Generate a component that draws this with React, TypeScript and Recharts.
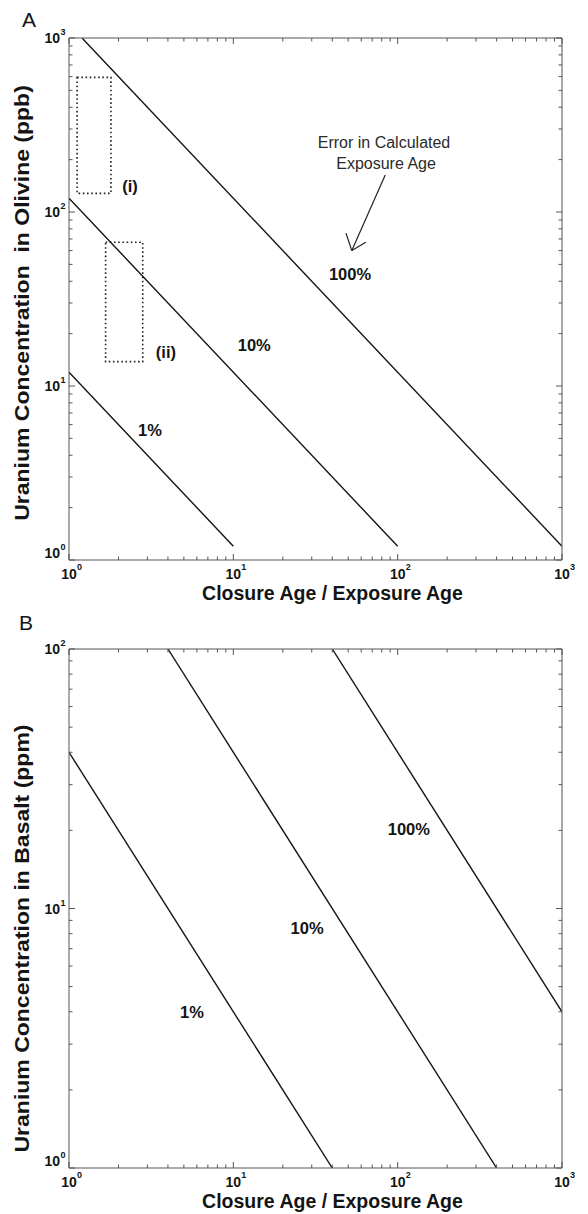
import React from 'react';
import { LineChart, Line, XAxis, YAxis, ReferenceArea, ReferenceLine, ReferenceDot, Label } from 'recharts';

// ---------- data ----------
const xTicks = [1, 2, 3, 4, 5, 6, 7, 8, 9, 10, 20, 30, 40, 50, 60, 70, 80, 90, 100, 200, 300, 400, 500, 600, 700, 800, 900, 1000];
const yTicksA = [1, 2, 3, 4, 5, 6, 7, 8, 9, 10, 20, 30, 40, 50, 60, 70, 80, 90, 100, 200, 300, 400, 500, 600, 700, 800, 900, 1000];
const yTicksB = [1, 2, 3, 4, 5, 6, 7, 8, 9, 10, 20, 30, 40, 50, 60, 70, 80, 90, 100];
const majorTicks = [1, 10, 100, 1000];
const majorExponents = ['0', '1', '2', '3'];

// Panel A: Uranium concentration in olivine (ppb)
const olivine1 = [{ x: 1, y: 12 }, { x: 10, y: 1.2 }];
const olivine10 = [{ x: 1, y: 120 }, { x: 100, y: 1.2 }];
const olivine100 = [{ x: 1.2, y: 1000 }, { x: 1000, y: 1.2 }];

// Panel B: Uranium concentration in basalt (ppm)
const basalt1 = [{ x: 1, y: 40 }, { x: 40, y: 1 }];
const basalt10 = [{ x: 4, y: 100 }, { x: 400, y: 1 }];
const basalt100 = [{ x: 40, y: 100 }, { x: 1000, y: 4 }];

// dotted boxes in panel A: [x1, x2, y1, y2]
const boxI = [1.12, 1.8, 128, 594];
const boxII = [1.67, 2.81, 13.8, 67];

// annotations [label, x, y]
const labelsA: [string, number, number][] = [
  ['(i)', 2.35, 141],
  ['(ii)', 3.89, 15.7],
  ['1%', 3.11, 5.6],
  ['10%', 13.4, 17.2],
  ['100%', 51.3, 44],
];
const noteA: [string, number, number][] = [
  ['Error in Calculated', 82.6, 252],
  ['Exposure Age', 85, 191],
];
const arrowShaft = [{ x: 84, y: 163 }, { x: 52.6, y: 60 }];
const arrowHeadL = [{ x: 48.5, y: 75.5 }, { x: 52.6, y: 60 }];
const arrowHeadR = [{ x: 64, y: 67 }, { x: 52.6, y: 60 }];

const labelsB: [string, number, number][] = [
  ['1%', 5.6, 4.0],
  ['10%', 28.1, 8.4],
  ['100%', 117, 20.2],
];

// ---------- styles ----------
const FONT = '"Liberation Sans", Arial, Helvetica, sans-serif';
const AXIS = '#555';
const INK = '#141414';
const STRETCH = 1.15;

type Side = 'bottom' | 'top' | 'left' | 'right';

function renderTick(side: Side, p: any, minY: number) {
  const { x, y, payload } = p;
  const v = payload.value;
  const idx = majorTicks.indexOf(v);
  const major = idx >= 0;
  const len = major ? 6 : 3.5;
  let line: any = null;
  if (side === 'bottom') line = <line x1={x} y1={y} x2={x} y2={y - len} stroke={AXIS} strokeWidth={1} />;
  if (side === 'top') line = <line x1={x} y1={y} x2={x} y2={y + len} stroke={AXIS} strokeWidth={1} />;
  if (side === 'left') line = <line x1={x} y1={y} x2={x + len} y2={y} stroke={AXIS} strokeWidth={1} />;
  if (side === 'right') line = <line x1={x} y1={y} x2={x - len} y2={y} stroke={AXIS} strokeWidth={1} />;
  let label: any = null;
  if (major && side === 'bottom') {
    label = (
      <g>
        <text x={x} y={y + 19} textAnchor="middle" fontFamily={FONT} fontWeight="bold" fontSize={14} fill={INK}>10</text>
        <text x={x + 8} y={y + 10} textAnchor="start" fontFamily={FONT} fontWeight="bold" fontSize={9} fill={INK}>{majorExponents[idx]}</text>
      </g>
    );
  }
  if (major && side === 'left') {
    const shift = v === minY ? -7 : 0;
    label = (
      <g>
        <text x={x - 9} y={y + 5 + shift} textAnchor="end" fontFamily={FONT} fontWeight="bold" fontSize={14} fill={INK}>10</text>
        <text x={x - 8.5} y={y - 3 + shift} textAnchor="start" fontFamily={FONT} fontWeight="bold" fontSize={9} fill={INK}>{majorExponents[idx]}</text>
      </g>
    );
  }
  return <g>{line}{label}</g>;
}

function textShape(t: string, bold: boolean, size: number) {
  return (p: any) => (
    <text x={p.cx} y={p.cy} textAnchor="middle" dominantBaseline="central" fontFamily={FONT}
      fontWeight={bold ? 'bold' : 'normal'} fontSize={size} fill={bold ? INK : '#2a2a2a'}>{t}</text>
  );
}

function XTitle(p: any) {
  const vb = p.viewBox;
  return (
    <text x={vb.x + vb.width / 2 + 17} y={vb.y + 40} textAnchor="middle" fontFamily={FONT} fontWeight="bold" fontSize={19.5} fill={INK}>
      Closure Age / Exposure Age
    </text>
  );
}

function makeYTitle(title: string, letter: string, letterY: number, letterX: number, dy: number) {
  return (p: any) => {
    const vb = p.viewBox;
    const cy = vb.y + vb.height / 2 + dy;
    return (
      <g>
        <text transform={`translate(29 ${cy}) scale(1 ${STRETCH}) rotate(-90)`} x={0} y={0} textAnchor="middle"
          fontFamily={FONT} fontWeight="bold" fontSize={20} fill={INK} style={{ whiteSpace: 'pre' }}>
          {title}
        </text>
        <text x={letterX} y={letterY} fontFamily={FONT} fontSize={21} fill={INK}>{letter}</text>
      </g>
    );
  };
}

function Panel(props: {
  yDomain: [number, number];
  yTicks: number[];
  lines: { x: number; y: number }[][];
  marginTop: number;
  marginBottom: number;
  title: string;
  letter: string;
  letterY: number;
  letterX: number;
  titleDy: number;
  children?: any;
}) {
  const { yDomain, yTicks, lines, marginTop, marginBottom, title, letter, letterY, letterX, titleDy } = props;
  const minY = yDomain[0];
  return (
    <LineChart width={588} height={607} margin={{ top: marginTop, right: 25, bottom: marginBottom, left: 9 }}>
      <XAxis xAxisId="b" dataKey="x" type="number" scale="log" domain={[1, 1000]} allowDataOverflow ticks={xTicks} interval={0}
        orientation="bottom" height={40} tickSize={0} tickMargin={0} tickLine={false} axisLine={{ stroke: AXIS, strokeWidth: 1 }}
        tick={(p: any) => renderTick('bottom', p, minY)}>
        <Label content={XTitle} />
      </XAxis>
      <XAxis xAxisId="t" dataKey="x" type="number" scale="log" domain={[1, 1000]} allowDataOverflow ticks={xTicks} interval={0}
        orientation="top" height={1} tickSize={0} tickMargin={0} tickLine={false} axisLine={{ stroke: AXIS, strokeWidth: 1 }}
        tick={(p: any) => renderTick('top', p, minY)} />
      <YAxis yAxisId="l" type="number" scale="log" domain={yDomain} allowDataOverflow ticks={yTicks} interval={0}
        orientation="left" width={60} tickSize={0} tickMargin={0} tickLine={false} axisLine={{ stroke: AXIS, strokeWidth: 1 }}
        tick={(p: any) => renderTick('left', p, minY)}>
        <Label content={makeYTitle(title, letter, letterY, letterX, titleDy)} />
      </YAxis>
      <YAxis yAxisId="r" type="number" scale="log" domain={yDomain} allowDataOverflow ticks={yTicks} interval={0}
        orientation="right" width={1} tickSize={0} tickMargin={0} tickLine={false} axisLine={{ stroke: AXIS, strokeWidth: 1 }}
        tick={(p: any) => renderTick('right', p, minY)} />
      {lines.map((d, i) => (
        <Line key={i} xAxisId="b" yAxisId="l" data={d} dataKey="y" type="linear" stroke={INK} strokeWidth={1.4}
          dot={false} activeDot={false} isAnimationActive={false} />
      ))}
      {props.children}
    </LineChart>
  );
}

export default function App() {
  return (
    <div style={{ position: 'absolute', left: 0, top: 0, width: 588, height: 1214, background: '#fff' }}>
      <Panel yDomain={[1, 1000]} yTicks={yTicksA} lines={[olivine1, olivine10, olivine100]} marginTop={37} marginBottom={7}
        title={'Uranium Concentration  in Olivine (ppb)'} letter="A" letterY={27} letterX={22} titleDy={4}>
        <ReferenceArea xAxisId="b" yAxisId="l" x1={boxI[0]} x2={boxI[1]} y1={boxI[2]} y2={boxI[3]} fill="none" fillOpacity={0}
          stroke="#222" strokeWidth={1.6} strokeDasharray="1.6 2.6" ifOverflow="visible" />
        <ReferenceArea xAxisId="b" yAxisId="l" x1={boxII[0]} x2={boxII[1]} y1={boxII[2]} y2={boxII[3]} fill="none" fillOpacity={0}
          stroke="#222" strokeWidth={1.6} strokeDasharray="1.6 2.6" ifOverflow="visible" />
        <ReferenceLine xAxisId="b" yAxisId="l" segment={arrowShaft} stroke="#222" strokeWidth={1.2} ifOverflow="visible" />
        <ReferenceLine xAxisId="b" yAxisId="l" segment={arrowHeadL} stroke="#222" strokeWidth={1.2} ifOverflow="visible" />
        <ReferenceLine xAxisId="b" yAxisId="l" segment={arrowHeadR} stroke="#222" strokeWidth={1.2} ifOverflow="visible" />
        {labelsA.map(([t, x, y]) => (
          <ReferenceDot key={t} xAxisId="b" yAxisId="l" x={x} y={y} r={1} ifOverflow="visible" shape={textShape(t, true, 16.5)} />
        ))}
        {noteA.map(([t, x, y]) => (
          <ReferenceDot key={t} xAxisId="b" yAxisId="l" x={x} y={y} r={1} ifOverflow="visible" shape={textShape(t, false, 16)} />
        ))}
      </Panel>
      <Panel yDomain={[1, 100]} yTicks={yTicksB} lines={[basalt1, basalt10, basalt100]} marginTop={41} marginBottom={6}
        title={'Uranium Concentration in Basalt (ppm)'} letter="B" letterY={23} letterX={19} titleDy={30}>
        {labelsB.map(([t, x, y]) => (
          <ReferenceDot key={t} xAxisId="b" yAxisId="l" x={x} y={y} r={1} ifOverflow="visible" shape={textShape(t, true, 16.5)} />
        ))}
      </Panel>
    </div>
  );
}
